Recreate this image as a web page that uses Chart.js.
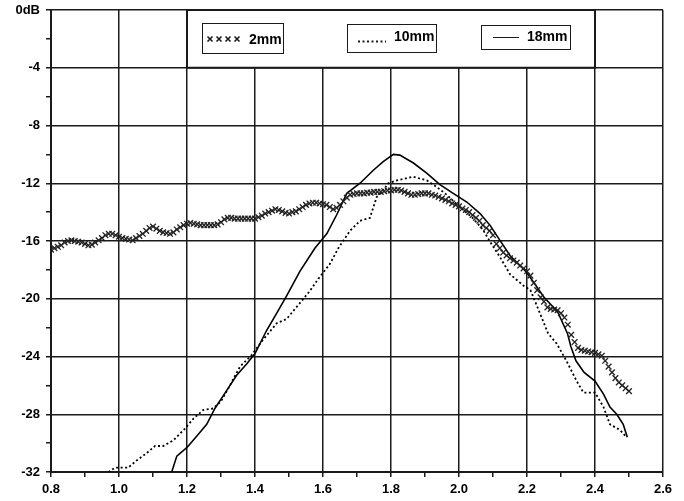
<!DOCTYPE html>
<html>
<head>
<meta charset="utf-8">
<script src="https://cdn.jsdelivr.net/npm/chart.js@4"></script>
<style>
  html, body { margin: 0; padding: 0; background: #fff; }
  #wrap { width: 684px; height: 501px; }
</style>
</head>
<body>
<div id="wrap"><canvas id="c" width="684" height="501"></canvas></div>
<script>
// 2mm: sampled every 0.01 from 0.80 to 2.50
const start2mm = 0.8;
const step2mm = 0.01;
const db2mm = [
  -16.6, -16.5, -16.4, -16.3, -16.1, -16.0, -15.95, -16.0, -16.05, -16.1,
  -16.2, -16.3, -16.25, -16.1, -15.95, -15.8, -15.6, -15.5, -15.5, -15.6,
  -15.7, -15.8, -15.85, -15.9, -15.95, -15.8, -15.65, -15.5, -15.3, -15.1,
  -15.0, -15.15, -15.3, -15.4, -15.45, -15.5, -15.4, -15.2, -15.05, -14.9,
  -14.8, -14.75, -14.8, -14.85, -14.9, -14.9, -14.9, -14.9, -14.9, -14.85,
  -14.7, -14.5, -14.4, -14.4, -14.45, -14.45, -14.45, -14.45, -14.45, -14.45,
  -14.45, -14.35, -14.25, -14.1, -14.0, -13.9, -13.8, -13.85, -13.95, -14.05,
  -14.1, -14.0, -13.95, -13.8, -13.65, -13.5, -13.4, -13.35, -13.35, -13.4,
  -13.45, -13.5, -13.65, -13.8, -13.7, -13.5, -13.25, -13.0, -12.8, -12.75,
  -12.7, -12.7, -12.7, -12.65, -12.65, -12.6, -12.6, -12.6, -12.55, -12.5,
  -12.5, -12.45, -12.45, -12.5, -12.6, -12.7, -12.8, -12.8, -12.75, -12.7,
  -12.7, -12.7, -12.8, -12.85, -12.95, -13.05, -13.15, -13.25, -13.4, -13.5,
  -13.6, -13.75, -13.85, -14.0, -14.2, -14.4, -14.6, -14.9, -15.1, -15.3,
  -15.6, -16.2, -16.5, -16.8, -17.0, -17.2, -17.35, -17.5, -17.7, -17.9,
  -18.1, -18.4, -18.9, -19.4, -19.9, -20.2, -20.6, -20.7, -20.75, -20.8,
  -21.0, -21.3, -21.8, -22.5, -23.0, -23.4, -23.55, -23.6, -23.65, -23.7,
  -23.75, -23.85, -23.95, -24.3, -24.7, -25.1, -25.5, -25.8, -26.0, -26.2,
  -26.4
];

// 10mm (dotted)
const freq10mm = [0.969, 0.988, 1.027, 1.052, 1.081, 1.106, 1.13, 1.16, 1.194, 1.219,
  1.248, 1.277, 1.30, 1.317, 1.356, 1.39, 1.425, 1.464, 1.493, 1.532,
  1.56, 1.59, 1.62, 1.645, 1.679, 1.709, 1.738, 1.758, 1.777, 1.792,
  1.817, 1.866, 1.905, 1.934, 1.964, 2.0, 2.04, 2.07, 2.09, 2.12,
  2.15, 2.19, 2.21, 2.238, 2.262, 2.287, 2.316, 2.346, 2.366, 2.4,
  2.425, 2.444, 2.474, 2.493];
const db10mm = [-32, -31.7, -31.7, -31.2, -30.7, -30.2, -30.2, -29.8, -29.0, -28.3,
  -27.7, -27.6, -27.1, -26.4, -24.7, -23.9, -22.8, -21.7, -21.4, -20.3,
  -19.5, -18.5, -17.6, -16.5, -15.3, -14.6, -14.4, -12.95, -12.5, -12.0,
  -11.8, -11.55, -11.8, -12.25, -12.8, -13.6, -14.4, -15.2, -16.0, -17.1,
  -18.3, -19.1, -19.4, -21.0, -22.4, -23.1, -24.3, -25.7, -26.5, -26.5,
  -27.5, -28.7, -29.1, -29.6];

// 18mm (solid)
const freq18mm = [1.155, 1.17, 1.2, 1.229, 1.258, 1.282, 1.317, 1.346, 1.376, 1.4,
  1.434, 1.464, 1.493, 1.532, 1.576, 1.611, 1.64, 1.67, 1.709, 1.748,
  1.777, 1.807, 1.826, 1.866, 1.905, 1.944, 1.983, 2.023, 2.062, 2.091,
  2.116, 2.15, 2.2, 2.25, 2.29, 2.319, 2.329, 2.344, 2.368, 2.4,
  2.425, 2.444, 2.464, 2.483, 2.495];
const db18mm = [-32, -30.9, -30.3, -29.5, -28.7, -27.6, -26.35, -25.3, -24.5, -23.8,
  -22.2, -21.0, -19.8, -18.1, -16.5, -15.5, -14.2, -12.7, -12.0, -11.1,
  -10.5, -10.0, -10.05, -10.6, -11.3, -12.1, -12.7, -13.3, -14.1, -14.9,
  -15.8, -17.0, -18.2, -19.9, -20.9, -22.4, -23.3, -24.3, -25.1, -25.7,
  -26.6, -27.5, -28.0, -28.7, -29.6];

const legendLabels = ["2mm", "10mm", "18mm"];
const ink = "#1a1a1a";
const tickFont = { family: "'Liberation Sans', Arial, sans-serif", size: 13, weight: "bold" };

const pts2 = db2mm.map((v, i) => ({ x: +(start2mm + i * step2mm).toFixed(2), y: v }));
const pts10 = freq10mm.map((f, i) => ({ x: f, y: db10mm[i] }));
const pts18 = freq18mm.map((f, i) => ({ x: f, y: db18mm[i] }));

const isMajorX = (v) => Math.round(v * 10) % 2 === 0;
const isMajorY = (v) => Math.round(v) % 4 === 0;

const legendBox = {
  id: "legendBox",
  beforeDatasetsDraw(chart) {
    const { ctx, scales } = chart;
    const L = scales.x.getPixelForValue(1.2);
    const R = scales.x.getPixelForValue(2.4);
    const T = scales.y.getPixelForValue(0);
    const B = scales.y.getPixelForValue(-4);
    ctx.save();
    ctx.fillStyle = "#fff";
    ctx.fillRect(L, T, R - L, B - T);
    ctx.strokeStyle = ink;
    ctx.lineWidth = 2;
    ctx.strokeRect(L, T, R - L, B - T);

    ctx.lineWidth = 1;
    ctx.font = "bold 14px 'Liberation Sans', Arial, sans-serif";
    ctx.textBaseline = "middle";
    ctx.fillStyle = "#000";

    // box 1: crosses
    ctx.strokeRect(L + 15.5, T + 13.5, 81, 30);
    ctx.lineWidth = 1.6;
    for (let k = 0; k < 4; k++) {
      const cx = L + 23 + k * 9, cy = T + 29;
      ctx.beginPath();
      ctx.moveTo(cx - 2.5, cy - 2.5); ctx.lineTo(cx + 2.5, cy + 2.5);
      ctx.moveTo(cx + 2.5, cy - 2.5); ctx.lineTo(cx - 2.5, cy + 2.5);
      ctx.stroke();
    }
    ctx.lineWidth = 1;
    ctx.fillText(legendLabels[0], L + 62, T + 30);

    // box 2: dotted
    ctx.strokeRect(L + 160.5, T + 14.5, 89, 28);
    ctx.lineWidth = 2;
    ctx.setLineDash([2, 2.5]);
    ctx.beginPath();
    ctx.moveTo(L + 171, T + 31.5); ctx.lineTo(L + 199, T + 31.5);
    ctx.stroke();
    ctx.setLineDash([]);
    ctx.lineWidth = 1;
    ctx.fillText(legendLabels[1], L + 207, T + 27);

    // box 3: solid
    ctx.strokeRect(L + 294.5, T + 15.5, 89, 24);
    ctx.beginPath();
    ctx.moveTo(L + 306, T + 27.5); ctx.lineTo(L + 332, T + 27.5);
    ctx.stroke();
    ctx.fillText(legendLabels[2], L + 340, T + 27);
    ctx.restore();
  }
};

new Chart(document.getElementById("c"), {
  type: "line",
  data: {
    datasets: [
      {
        label: legendLabels[0],
        data: pts2,
        showLine: false,
        pointStyle: "crossRot",
        pointRadius: 4,
        pointBorderColor: "#222",
        pointBorderWidth: 1.3
      },
      {
        label: legendLabels[1],
        data: pts10,
        borderColor: "#000",
        borderWidth: 1.8,
        borderDash: [2, 2.5],
        pointRadius: 0,
        tension: 0
      },
      {
        label: legendLabels[2],
        data: pts18,
        borderColor: "#000",
        borderWidth: 1.6,
        pointRadius: 0,
        tension: 0
      }
    ]
  },
  options: {
    responsive: false,
    animation: false,
    events: [],
    layout: { padding: { top: 10, right: 21, left: 0, bottom: 0 } },
    plugins: { legend: { display: false }, tooltip: { enabled: false } },
    scales: {
      x: {
        type: "linear",
        min: 0.8,
        max: 2.6,
        afterFit: (s) => { s.height = 29; s.paddingLeft = 0; s.paddingRight = 0; },
        border: { color: ink, width: 2 },
        grid: {
          color: (c) => (c.tick && isMajorX(c.tick.value) ? ink : "rgba(0,0,0,0)"),
          tickColor: ink,
          lineWidth: 1.5,
          tickWidth: 1.5,
          tickLength: 5
        },
        ticks: {
          stepSize: 0.1,
          padding: 5,
          color: "#000",
          font: tickFont,
          maxRotation: 0,
          autoSkip: false,
          callback: (v) => (isMajorX(v) ? v.toFixed(1) : "")
        }
      },
      y: {
        type: "linear",
        min: -32,
        max: 0,
        afterFit: (s) => { s.width = 51; s.paddingTop = 0; s.paddingBottom = 0; },
        border: { color: ink, width: 2 },
        grid: {
          color: (c) => (c.tick && isMajorY(c.tick.value) ? ink : "rgba(0,0,0,0)"),
          tickColor: ink,
          lineWidth: 1.5,
          tickWidth: 1.5,
          tickLength: 5
        },
        ticks: {
          stepSize: 2,
          padding: 6,
          color: "#000",
          font: tickFont,
          autoSkip: false,
          callback: (v) => (v === 0 ? "0dB" : (isMajorY(v) ? String(v) : ""))
        }
      }
    }
  },
  plugins: [legendBox]
});
</script>
</body>
</html>
